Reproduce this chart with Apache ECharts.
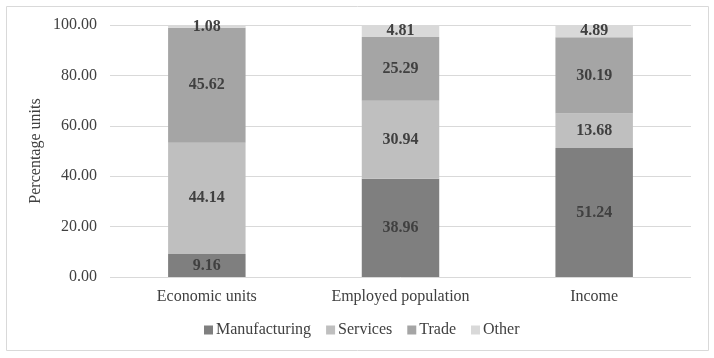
<!DOCTYPE html>
<html>
<head>
<meta charset="utf-8">
<script src="https://cdn.jsdelivr.net/npm/echarts@6/dist/echarts.min.js"></script>
<style>
html, body { margin: 0; padding: 0; background: #fff; }
#chart { width: 714px; height: 358px; }
</style>
</head>
<body>
<div id="chart"></div>
<script>
// 各类别占比数据
var categories = ['Economic units', 'Employed population', 'Income'];
var seriesNames = ['Manufacturing', 'Services', 'Trade', 'Other'];
var manufacturing = [9.16, 38.96, 51.24];
var services = [44.14, 30.94, 13.68];
var trade = [45.62, 25.29, 30.19];
var other = [1.08, 4.81, 4.89];
var yTicks = [0, 20, 40, 60, 80, 100];

var colors = ['#7f7f7f', '#bfbfbf', '#a5a5a5', '#d9d9d9'];
var font = '"Liberation Serif", "Times New Roman", serif';

var chart = echarts.init(document.getElementById('chart'));

function makeSeries(name, data) {
	return {
		name: name,
		type: 'bar',
		stack: 'total',
		barWidth: '40%',
		data: data,
		label: {
			show: true,
			position: 'inside',
			formatter: function (p) { return p.value.toFixed(2); },
			color: '#404040',
			fontWeight: 'bold',
			fontSize: 16,
			fontFamily: font
		}
	};
}

chart.setOption({
	animation: false,
	color: colors,
	textStyle: { fontFamily: font },
	graphic: [{
		type: 'rect',
		shape: { x: 6.5, y: 6.5, width: 702, height: 344 },
		style: { fill: 'none', stroke: '#d9d9d9', lineWidth: 1 },
		silent: true
	}],
	grid: { left: 110, right: 23, top: 25, bottom: 81 },
	legend: {
		data: seriesNames,
		bottom: 15,
		left: 199,
		itemWidth: 9,
		itemHeight: 9,
		itemGap: 15,
		icon: 'rect',
		textStyle: { color: '#404040', fontSize: 16, fontFamily: font, padding: [0, 0, 0, -2] }
	},
	xAxis: {
		type: 'category',
		data: categories,
		axisLine: { show: false },
		axisTick: { show: false },
		axisLabel: { color: '#404040', fontSize: 16, margin: 12, fontFamily: font }
	},
	yAxis: {
		type: 'value',
		min: yTicks[0],
		max: yTicks[yTicks.length - 1],
		interval: 20,
		name: 'Percentage units',
		nameLocation: 'middle',
		nameGap: 66,
		nameMoveOverlap: false,
		nameTextStyle: { color: '#404040', fontSize: 16, fontFamily: font },
		axisLabel: {
			color: '#404040',
			fontSize: 16,
			margin: 13,
			fontFamily: font,
			formatter: function (v) { return v.toFixed(2); }
		},
		splitLine: { lineStyle: { color: '#d9d9d9' } }
	},
	series: [
		makeSeries(seriesNames[0], manufacturing),
		makeSeries(seriesNames[1], services),
		makeSeries(seriesNames[2], trade),
		makeSeries(seriesNames[3], other)
	]
});
</script>
</body>
</html>
